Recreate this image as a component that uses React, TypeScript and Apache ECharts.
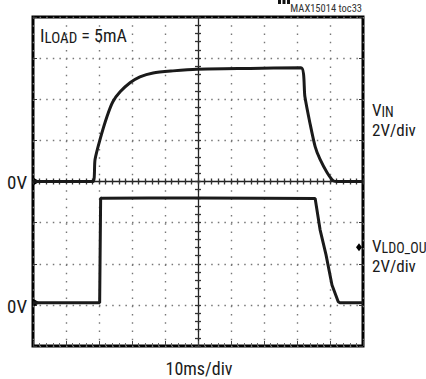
import React, { useEffect, useRef } from "react";
import * as echarts from "echarts";

// Time axis: 10 ms/div, 10 divisions
const xMin = 0;
const xMax = 100;
const xInterval = 10;

// Voltage axes: 2 V/div, 8 divisions
const vinAxisMin = -8;
const vinAxisMax = 8;
const ldoAxisMin = -2;
const ldoAxisMax = 14;
const vInterval = 2;

// V_IN trace (ms, V)
const vinTime = [0, 18.2, 18.8, 20.3, 22.4, 24.2, 26.4, 29.4, 32.4, 36.4, 42.4, 49.7, 65.8, 81.2, 82.4, 83.9, 85.5, 87.0, 89.1, 90.9, 92, 100];
const vinVolts = [0, 0, 1.07, 2.04, 3.15, 3.88, 4.36, 4.8, 5.09, 5.28, 5.38, 5.46, 5.5, 5.53, 4.12, 2.86, 1.7, 1.07, 0.44, 0.05, 0, 0];

// V_LDO_OUT trace (ms, V)
const ldoTime = [0, 20.2, 20.5, 21, 35, 50, 70, 85.5, 87.0, 88.8, 90.6, 92.5, 93, 100];
const ldoVolts = [0.1, 0.1, 5.2, 5.18, 5.2, 5.2, 5.19, 5.17, 3.65, 2.43, 0.97, 0.15, 0.1, 0.1];

// Channel markers
const vinGround = [0, 0];
const ldoGround = [0, 0.1];
const triggerLevel = [100, 2.8];

const FONT = "'Liberation Sans Narrow', 'Arial Narrow', 'Roboto Condensed', sans-serif";
const INK = "#1a1a1a";

export default function App() {
  const ref = useRef<HTMLDivElement>(null);
  useEffect(() => {
    if (!ref.current) return;
    const chart = echarts.init(ref.current, undefined, { renderer: "svg" });
    const gridRect = { left: 33, top: 17, width: 330, height: 329 };
    const hidden = { show: false };
    const baseX = { type: "value", min: xMin, max: xMax, interval: xInterval, axisLabel: hidden, gridIndex: 0 };
    const baseY = { type: "value", min: vinAxisMin, max: vinAxisMax, interval: vInterval, axisLabel: hidden, gridIndex: 0 };
    const richLabel = {
      a: { fontFamily: FONT, fontSize: 17, fill: INK, lineHeight: 13, verticalAlign: "top" },
      s: { fontFamily: FONT, fontSize: 14, fill: INK, lineHeight: 13, padding: [3, 0, 0, 0], verticalAlign: "top" },
    };
    const divStyle = { verticalAlign: "middle", fontFamily: FONT, fontSize: 17, lineHeight: 14, fill: INK, text: "2V/div" };
    chart.setOption({
      animation: false,
      backgroundColor: "#fff",
      grid: { ...gridRect, show: true, borderColor: "#000", borderWidth: 3, backgroundColor: "transparent", containLabel: false },
      xAxis: [
        {
          ...baseX,
          position: "bottom",
          axisLine: { show: false, onZero: false },
          axisTick: { show: true, inside: true, length: 5, lineStyle: { color: "#444", width: 1 } },
          minorTick: { show: true, splitNumber: 5, length: 3, lineStyle: { color: "#666", width: 1 } },
          splitLine: { show: true, lineStyle: { color: "#777", width: 1.4, type: [1.5, 6.75] } },
        },
        {
          ...baseX,
          position: "bottom",
          offset: -164.5,
          axisLine: { show: true, onZero: false, lineStyle: { color: "#222", width: 1.3 } },
          axisTick: { show: true, inside: true, length: 3, lineStyle: { color: "#333", width: 1.3 } },
          minorTick: { show: true, splitNumber: 5, length: 3, lineStyle: { color: "#333", width: 1.3 } },
          splitLine: hidden,
        },
        {
          ...baseX,
          position: "bottom",
          offset: -164.5,
          axisLine: { show: false, onZero: false },
          axisTick: { show: true, inside: false, length: 3, lineStyle: { color: "#333", width: 1.3 } },
          minorTick: { show: true, splitNumber: 5, length: 3, lineStyle: { color: "#333", width: 1.3 } },
          splitLine: hidden,
        },
      ],
      yAxis: [
        {
          ...baseY,
          position: "left",
          axisLine: { show: false, onZero: false },
          axisTick: { show: true, inside: true, length: 4, lineStyle: { color: "#333" } },
          splitLine: { show: true, lineStyle: { color: "#777", width: 1.4, type: [1.5, 5.1] } },
        },
        {
          type: "value", min: ldoAxisMin, max: ldoAxisMax, interval: vInterval, gridIndex: 0,
          position: "right", show: false, axisLine: { onZero: false }, splitLine: hidden,
        },
        {
          ...baseY,
          position: "left",
          offset: -165,
          axisLine: { show: true, onZero: false, lineStyle: { color: "#222", width: 1.3 } },
          axisTick: { show: true, inside: true, length: 3, lineStyle: { color: "#333", width: 1.3 } },
          minorTick: { show: true, splitNumber: 5, length: 3, lineStyle: { color: "#333", width: 1.3 } },
          splitLine: hidden,
        },
        {
          ...baseY,
          position: "left",
          offset: -165,
          axisLine: { show: false, onZero: false },
          axisTick: { show: true, inside: false, length: 3, lineStyle: { color: "#333", width: 1.3 } },
          minorTick: { show: true, splitNumber: 5, length: 3, lineStyle: { color: "#333", width: 1.3 } },
          splitLine: hidden,
        },
        {
          ...baseY,
          position: "right",
          axisLine: { show: false, onZero: false },
          axisTick: { show: true, inside: true, length: 4, lineStyle: { color: "#333" } },
          splitLine: hidden,
        },
      ],
      series: [
        {
          name: "VIN",
          type: "line",
          xAxisIndex: 0,
          yAxisIndex: 0,
          data: vinTime.map((t, i) => [t, vinVolts[i]]),
          showSymbol: false,
          smooth: 0.25,
          lineStyle: { color: INK, width: 3 },
          z: 5,
          markPoint: {
            silent: true,
            label: hidden,
            data: [{ coord: vinGround, symbol: "triangle", symbolSize: [7, 6], symbolRotate: -90, symbolOffset: [4, 0], itemStyle: { color: "#000" } }],
          },
        },
        {
          name: "VLDO_OUT",
          type: "line",
          xAxisIndex: 0,
          yAxisIndex: 1,
          data: ldoTime.map((t, i) => [t, ldoVolts[i]]),
          showSymbol: false,
          lineStyle: { color: INK, width: 3 },
          z: 5,
          markPoint: {
            silent: true,
            label: hidden,
            data: [
              { coord: ldoGround, symbol: "triangle", symbolSize: [7, 6], symbolRotate: -90, symbolOffset: [4, 0], itemStyle: { color: "#000" } },
              { coord: triggerLevel, symbol: "diamond", symbolSize: [6, 8], symbolOffset: [-4, 0], itemStyle: { color: "#000" } },
            ],
          },
        },
      ],
      graphic: [
        { type: "rect", left: 278, top: 0, shape: { width: 3, height: 4 }, style: { fill: "#111" }, silent: true },
        { type: "rect", left: 282.5, top: 0, shape: { width: 3, height: 4 }, style: { fill: "#111" }, silent: true },
        { type: "rect", left: 287, top: 0, shape: { width: 3, height: 4 }, style: { fill: "#111" }, silent: true },
        {
          type: "text", silent: true,
          style: { x: 362, y: 8, text: "MAX15014 toc33", align: "right", verticalAlign: "middle", fontFamily: FONT, fontSize: 10.5, fill: "#333" },
        },
        {
          type: "text", silent: true, z: 10,
          style: {
            x: 40, y: 34, verticalAlign: "middle", align: "left",
            text: "{a|I}{s|LOAD}{a| = 5mA}",
            rich: {
              a: { fontFamily: FONT, fontSize: 18, fill: INK, lineHeight: 16, verticalAlign: "top" },
              s: { fontFamily: FONT, fontSize: 15, fill: INK, lineHeight: 16, padding: [4, 0, 0, 0], verticalAlign: "top" },
            },
          },
        },
        { type: "text", silent: true, style: { x: 7, y: 182, text: "0V", verticalAlign: "middle", fontFamily: FONT, fontSize: 19, fill: INK } },
        { type: "text", silent: true, style: { x: 7, y: 306, text: "0V", verticalAlign: "middle", fontFamily: FONT, fontSize: 19, fill: INK } },
        {
          type: "text", silent: true,
          style: { x: 372, y: 108, verticalAlign: "middle", align: "left", text: "{a|V}{s|IN}", rich: richLabel },
        },
        { type: "text", silent: true, style: { x: 372, y: 130, ...divStyle } },
        {
          type: "text", silent: true,
          style: { x: 372, y: 244, verticalAlign: "middle", align: "left", text: "{a|V}{s|LDO_OUT}", rich: richLabel },
        },
        { type: "text", silent: true, style: { x: 372, y: 266, ...divStyle } },
        { type: "text", silent: true, style: { x: 199, y: 368, text: "10ms/div", align: "center", verticalAlign: "middle", fontFamily: FONT, fontSize: 18, fill: INK } },
      ],
    });
    return () => chart.dispose();
  }, []);
  return <div ref={ref} style={{ position: "fixed", left: 0, top: 0, width: 426, height: 379, background: "#fff" }} />;
}
